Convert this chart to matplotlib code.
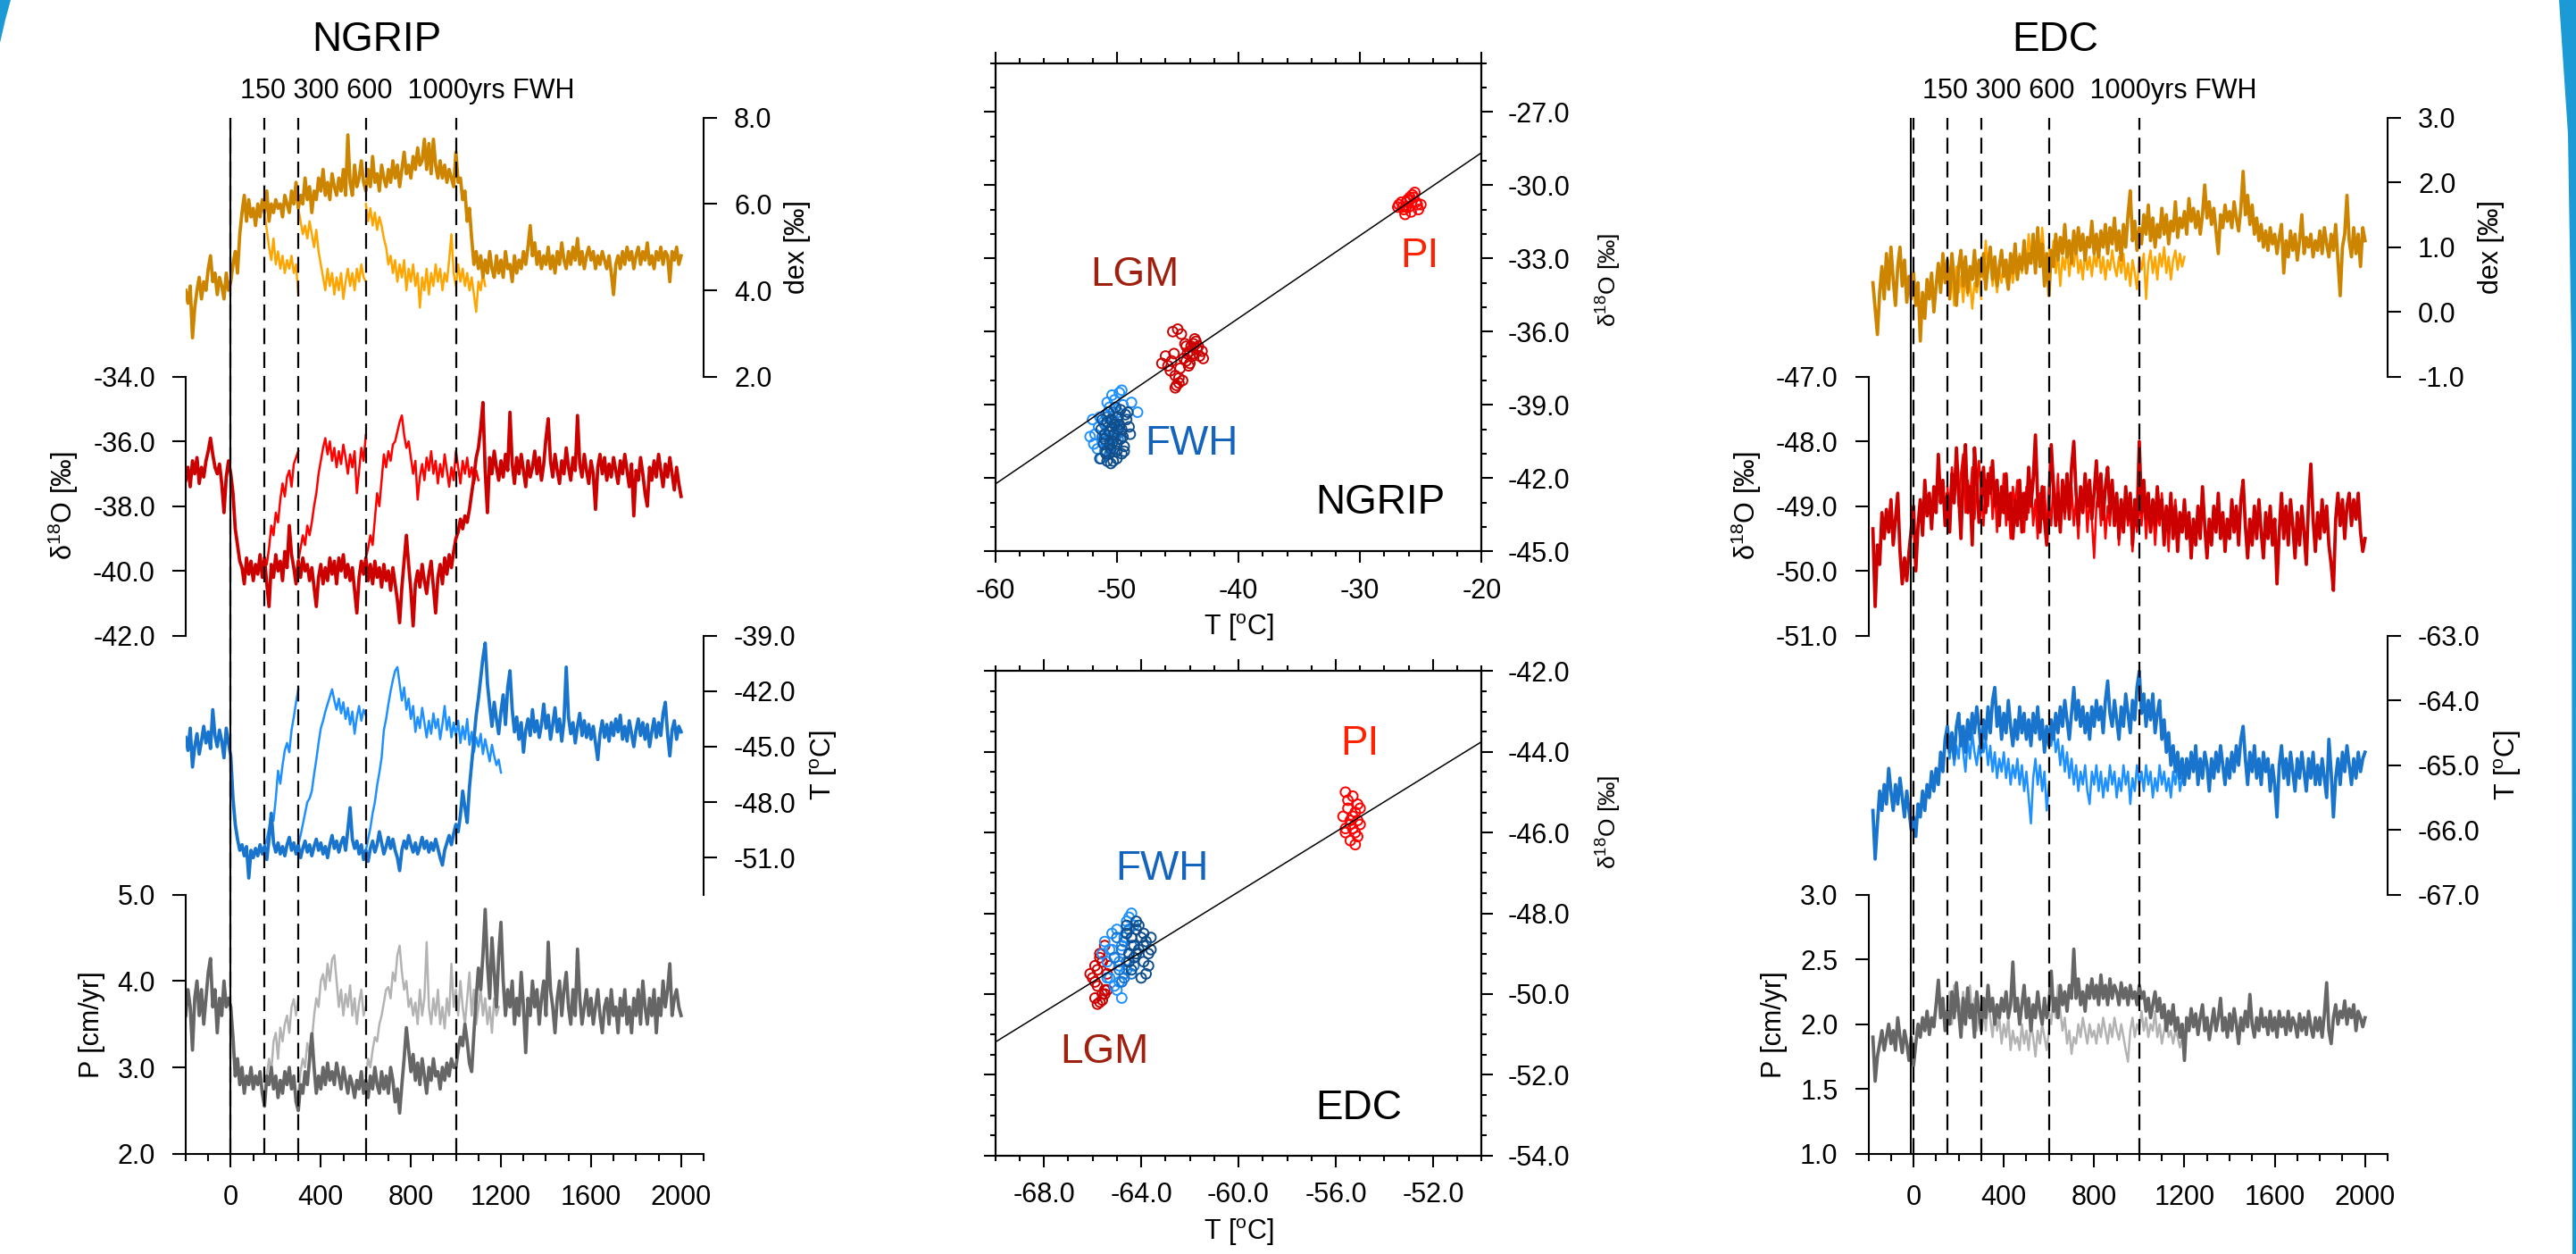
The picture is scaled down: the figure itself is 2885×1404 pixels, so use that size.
import numpy as np
import matplotlib
matplotlib.use("Agg")
import matplotlib.pyplot as plt
from matplotlib.ticker import MultipleLocator, FormatStrFormatter
from matplotlib.patches import Polygon

plt.rcParams['font.family'] = ['Liberation Sans', 'DejaVu Sans']
plt.rcParams['mathtext.fontset'] = 'custom'
plt.rcParams['mathtext.rm'] = 'Liberation Sans'
plt.rcParams['mathtext.it'] = 'Liberation Sans:italic'
plt.rcParams['mathtext.bf'] = 'Liberation Sans:bold'

# ------------------------------------------------------------------
# time series, 10-yr steps (main runs start at -200 / -180, branches at 150/300/600)
fwh_years = [0, 150, 300, 600, 1000]

ngrip_dex = [
    4.0, 3.7, 4.1, 2.9, 3.6, 4.0, 4.3, 3.8, 4.2, 4.0, 4.5, 4.8, 4.2, 4.4, 3.9, 4.3, 4.1, 3.8, 4.4, 4.0,
    4.2, 4.6, 4.9, 4.4, 5.3, 5.8, 6.2, 5.6, 6.1, 5.7, 5.9, 5.5, 6.0, 5.7, 6.1, 5.8, 6.3, 5.6, 6.0, 5.8,
    6.1, 5.9, 6.0, 5.7, 6.2, 6.0, 5.8, 6.3, 6.0, 6.5, 5.9, 6.2, 6.0, 6.6, 6.1, 6.4, 5.8, 6.3, 6.1, 6.6,
    6.3, 6.8, 6.2, 6.5, 6.1, 6.7, 6.4, 6.2, 6.6, 6.3, 6.8, 6.2, 7.6, 6.5, 6.2, 6.9, 6.4, 6.6, 7.0, 6.5,
    6.3, 6.8, 6.4, 7.1, 6.5, 6.7, 6.3, 6.9, 6.6, 6.4, 6.8, 6.5, 7.0, 6.6, 6.9, 6.4, 6.8, 7.2, 6.7, 6.9,
    6.6, 7.1, 6.8, 7.3, 6.9, 7.0, 7.5, 6.8, 7.4, 6.7, 7.5, 6.9, 6.6, 7.0, 6.6, 6.9, 6.5, 6.8, 6.6, 6.4,
    7.2, 6.5, 6.6, 6.1, 6.3, 5.6, 5.9, 5.2, 4.6, 4.9, 4.5, 4.8, 4.3, 4.7, 4.4, 4.9, 4.5, 4.3, 4.8, 4.4,
    4.7, 4.3, 4.9, 4.5, 4.6, 4.2, 4.8, 4.4, 4.7, 4.5, 4.9, 4.6, 5.0, 5.5, 4.8, 5.1, 4.6, 4.9, 4.5, 4.8,
    4.6, 5.0, 4.5, 4.8, 4.4, 4.9, 4.6, 5.1, 4.7, 4.5, 4.9, 4.6, 5.0, 4.7, 5.2, 4.6, 4.9, 4.5, 4.8, 5.0,
    4.7, 4.9, 4.5, 4.8, 4.6, 4.9, 4.7, 4.5, 4.8, 4.4, 3.9, 4.6, 4.8, 4.5, 4.9, 4.6, 5.0, 4.7, 4.9, 4.5,
    4.8, 5.0, 4.6, 4.9, 4.7, 5.1, 4.6, 4.8, 4.5, 4.9, 4.7, 5.0, 4.6, 4.9, 4.8, 4.2, 4.9, 4.7, 5.0, 4.6, 4.8]
ngrip_dex_b150 = [5.8, 5.4, 5.0, 4.7, 5.2, 4.6, 4.9, 4.5, 4.8, 4.4, 4.7, 4.5, 4.8, 4.4, 4.6, 3.9]
ngrip_dex_b300 = [5.9, 5.6, 5.3, 5.5, 5.2, 5.6, 5.3, 5.0, 5.4, 4.9, 4.6, 4.3, 4.0, 4.5, 4.1, 4.4,
                  3.9, 4.3, 4.0, 4.4, 3.8, 4.2, 4.5, 4.1, 4.4, 4.0, 4.5, 4.2, 4.6, 4.3, 4.2]
ngrip_dex_b600 = [6.0, 5.6, 5.9, 5.5, 5.8, 5.4, 5.7, 5.5, 5.2, 5.0, 4.6, 4.8, 4.4, 4.7, 4.2, 4.6,
                  4.3, 4.7, 4.0, 4.5, 4.2, 4.6, 4.1, 4.4, 3.6, 4.3, 4.0, 4.5, 3.9, 4.4, 4.1, 4.6,
                  4.2, 4.5, 4.0, 4.4, 4.2, 4.7, 5.3, 4.4, 4.1, 4.6, 4.2, 4.5, 4.1, 4.4, 4.0, 4.3,
                  3.9, 3.5, 4.2, 4.0, 4.4, 4.1]

ngrip_d18o = [
    -37.2, -36.8, -37.4, -36.6, -37.0, -36.5, -37.3, -36.8, -37.1, -36.6, -36.3, -35.9, -36.4, -36.8, -37.0, -36.7, -37.3, -38.2, -37.1, -36.6,
    -37.0, -37.6, -38.7, -39.2, -39.7, -39.9, -40.4, -39.6, -40.1, -39.7, -40.3, -39.8, -40.1, -39.5, -40.2, -39.6, -40.4, -41.1, -39.8, -40.2,
    -39.5, -40.0, -39.7, -40.3, -39.4, -39.9, -38.6, -39.5, -39.9, -40.4, -39.7, -40.2, -39.6, -40.0, -39.8, -40.3, -39.9, -40.5, -41.1, -40.2,
    -39.8, -40.4, -39.9, -40.3, -39.6, -40.1, -39.7, -40.4, -39.6, -40.0, -39.5, -40.2, -39.8, -40.3, -39.9, -40.6, -41.3, -40.2, -39.7, -40.1,
    -39.6, -40.3, -39.8, -40.4, -39.7, -40.2, -39.9, -40.5, -39.8, -40.3, -40.0, -40.6, -39.9, -40.4, -40.9, -41.6, -40.5, -39.7, -38.9, -39.8,
    -40.6, -41.7, -40.4, -40.0, -40.5, -39.8, -40.3, -40.7, -40.1, -39.7, -40.5, -41.3, -40.2, -39.8, -40.4, -39.6, -40.1, -39.5, -39.9, -39.4,
    -39.0, -38.8, -38.4, -38.7, -38.3, -38.5, -38.1, -37.6, -37.1, -36.5, -36.2, -35.6, -34.8, -36.9, -38.2, -36.5, -37.0, -36.3, -36.8, -37.2,
    -36.6, -37.1, -36.4, -36.9, -35.1, -36.7, -37.3, -36.5, -37.0, -36.4, -36.9, -37.4, -36.6, -37.1, -36.8, -36.3, -37.0, -36.5, -37.2, -36.7,
    -35.9, -35.3, -36.6, -37.1, -36.4, -36.9, -37.3, -36.6, -37.0, -36.2, -36.8, -37.2, -36.5, -36.9, -35.2, -36.7, -37.1, -36.4, -36.9, -37.3,
    -36.6, -37.0, -38.1, -36.8, -36.4, -37.0, -36.5, -37.2, -36.7, -37.1, -36.5, -36.9, -37.3, -36.6, -37.0, -36.4, -36.9, -37.4, -36.7, -38.3,
    -36.9, -37.2, -36.5, -37.0, -37.6, -38.0, -36.8, -37.2, -36.6, -37.1, -36.4, -36.9, -37.4, -36.7, -37.1, -36.5, -37.0, -37.5, -36.8, -37.3, -37.7]
ngrip_d18o_b150 = [-39.6, -39.8, -39.3, -38.6, -38.9, -38.2, -38.5, -37.8, -37.3, -37.7, -37.1, -36.9, -37.4, -36.7, -36.5, -36.3]
ngrip_d18o_b300 = [-39.7, -39.3, -38.9, -39.2, -38.6, -38.9, -38.5, -38.0, -37.6, -37.0, -36.6, -36.2, -35.9, -36.4, -36.0, -36.6,
                   -36.2, -36.8, -36.3, -36.7, -36.1, -36.5, -37.0, -36.4, -36.8, -36.3, -37.6, -36.9, -36.2, -36.6, -35.8]
ngrip_d18o_b600 = [-39.6, -39.3, -38.9, -39.2, -38.4, -37.6, -38.0, -37.2, -36.4, -36.8, -36.3, -36.6, -36.1, -36.0, -35.7, -35.4,
                   -35.2, -35.8, -36.2, -36.0, -36.5, -37.0, -36.6, -37.8, -37.1, -36.7, -37.2, -36.5, -36.9, -36.3, -37.0, -36.6,
                   -37.3, -36.7, -37.1, -36.4, -36.9, -37.4, -36.8, -37.2, -36.3, -36.8, -37.3, -36.6, -37.0, -36.5, -37.1, -36.8,
                   -37.3, -36.9, -37.2]

ngrip_t = [
    -44.5, -45.2, -44.0, -46.1, -45.0, -44.3, -45.4, -44.7, -43.9, -44.8, -44.2, -45.1, -43.0, -44.4, -45.0, -44.1, -44.7, -45.6, -44.0, -44.8,
    -45.5, -47.8, -49.2, -50.0, -50.6, -50.3, -50.9, -50.4, -52.1, -50.6, -51.0, -50.5, -50.9, -50.3, -50.8, -50.4, -51.1, -50.0, -48.6, -50.2,
    -50.7, -50.2, -50.8, -50.4, -50.9, -50.3, -49.9, -50.6, -50.2, -50.8, -50.3, -51.0, -50.5, -50.1, -50.7, -50.3, -50.9, -50.4, -50.0, -50.6,
    -50.2, -50.8, -50.4, -51.0, -50.3, -49.8, -50.5, -50.1, -50.7, -50.2, -49.9, -50.6, -49.5, -48.3, -50.0, -50.5, -50.1, -50.8, -50.3, -51.1,
    -50.6, -51.2, -50.5, -50.1, -50.7, -50.3, -49.6, -50.2, -50.8, -50.4, -49.9, -50.5, -50.0, -50.6, -51.0, -51.7, -50.6, -50.1, -50.5, -49.8,
    -50.3, -50.7, -50.2, -50.8, -50.4, -49.9, -50.5, -50.1, -50.7, -50.2, -50.6, -50.0, -50.5, -51.0, -51.4, -50.6, -50.2, -49.8, -50.3, -49.7,
    -49.2, -49.6, -48.7, -47.4, -48.3, -49.1, -47.2, -45.9, -44.6, -43.3, -42.4, -41.3, -40.2, -39.4, -41.6, -42.8, -43.9, -42.6, -43.5, -44.3,
    -43.1, -42.2, -43.8, -41.8, -40.9, -43.0, -44.2, -43.4, -44.6, -43.7, -45.3, -44.1, -43.5, -44.4, -43.0, -44.2, -43.6, -44.5, -43.8, -42.7,
    -44.0, -43.3, -44.6, -43.8, -42.9, -44.2, -43.5, -44.7, -43.6, -40.7, -43.4, -44.3, -43.7, -44.8, -43.9, -43.2, -44.4, -43.6, -44.5, -43.8,
    -44.6, -43.9, -44.8, -45.7, -44.3, -43.6, -44.5, -43.8, -44.7, -43.7, -44.4, -43.5, -44.2, -43.3, -44.6, -43.9, -44.7, -43.6, -44.3, -45.0,
    -44.1, -43.5, -44.4, -43.7, -44.6, -43.8, -45.0, -44.2, -43.5, -44.5, -43.7, -44.4, -43.2, -42.6, -44.3, -45.5, -44.1, -43.6, -44.6, -43.9, -44.2]
ngrip_t_b150 = [-50.4, -50.0, -49.4, -48.7, -49.0, -47.8, -46.3, -47.0, -46.0, -45.2, -44.8, -45.3, -44.1, -43.4, -42.6, -41.9]
ngrip_t_b300 = [-50.3, -49.8, -49.2, -48.6, -48.0, -47.8, -47.4, -46.5, -45.7, -44.8, -44.0, -43.6, -43.1, -42.7, -42.3, -41.9,
                -42.5, -43.0, -42.4, -43.2, -42.6, -43.5, -42.9, -43.8, -43.1, -44.3, -43.4, -42.8, -43.6, -43.0, -43.3]
ngrip_t_b600 = [-50.6, -50.0, -49.4, -48.6, -48.0, -47.1, -46.4, -45.6, -44.1, -43.5, -42.7, -42.0, -41.4, -40.9, -40.7, -41.6,
                -42.5, -41.8, -43.0, -42.4, -43.5, -42.8, -44.2, -43.4, -44.0, -42.9, -43.7, -44.5, -43.6, -44.3, -43.2, -44.0,
                -43.5, -44.6, -43.8, -42.8, -44.1, -43.4, -44.5, -43.7, -44.4, -43.6, -44.8, -43.9, -44.6, -43.5, -44.9, -44.2,
                -45.3, -44.5, -45.0, -44.3, -45.4, -44.6, -45.2, -45.8, -44.9, -45.5, -46.0, -45.7, -46.4]

ngrip_p = [
    3.6, 3.9, 3.7, 3.2, 3.8, 4.0, 3.6, 3.9, 3.5, 3.8, 4.1, 4.26, 3.7, 3.9, 3.4, 3.8, 3.6, 4.0, 3.7, 3.8,
    3.7, 3.35, 2.9, 3.1, 2.8, 3.0, 2.7, 2.9, 2.8, 3.0, 2.75, 2.9, 2.8, 2.95, 2.7, 2.55, 2.9, 2.8, 3.0, 2.75,
    2.9, 2.65, 2.85, 2.7, 2.95, 2.8, 3.0, 2.75, 2.9, 2.6, 2.5, 2.8, 2.7, 2.95, 2.8, 3.1, 3.39, 3.0, 2.7, 2.9,
    2.75, 3.0, 2.8, 3.05, 2.85, 2.95, 2.8, 3.05, 2.9, 2.75, 3.0, 2.85, 2.7, 2.9, 2.8, 2.65, 2.85, 2.75, 2.95, 2.7,
    2.85, 2.65, 2.9, 2.75, 3.0, 2.8, 2.7, 2.95, 2.75, 2.9, 2.7, 3.0, 2.85, 2.6, 2.75, 2.47, 2.8, 3.1, 3.46, 3.2,
    2.95, 3.15, 2.85, 3.05, 2.8, 3.1, 2.9, 2.7, 3.0, 2.85, 3.1, 2.9, 2.95, 2.75, 3.0, 2.85, 3.05, 2.9, 3.1, 3.0,
    3.0, 3.2, 3.35, 3.25, 3.5, 3.3, 3.05, 2.95, 3.4, 3.8, 4.15, 3.9, 4.3, 4.83, 4.2, 3.8, 4.5, 4.1, 3.7, 4.3,
    4.68, 4.0, 3.6, 3.9, 3.7, 4.0, 3.5, 3.8, 3.6, 4.1, 3.7, 3.17, 3.8, 3.6, 4.0, 3.7, 3.9, 3.5, 3.8, 4.0,
    3.6, 4.45, 3.9, 3.7, 3.4, 3.8, 4.0, 3.6, 3.9, 4.1, 3.7, 3.5, 3.9, 3.6, 4.37, 3.8, 3.5, 3.7, 3.9, 3.6,
    3.8, 3.5, 3.7, 3.9, 3.6, 3.4, 3.7, 3.8, 3.5, 3.9, 3.6, 3.7, 3.4, 3.8, 3.6, 3.9, 3.5, 3.7, 3.4, 3.8,
    3.6, 3.9, 3.5, 4.0, 3.7, 3.5, 3.8, 3.6, 3.9, 3.4, 3.8, 3.6, 4.0, 3.7, 3.9, 4.2, 3.6, 3.8, 3.9, 3.7, 3.6]
ngrip_p_b150 = [2.6, 2.9, 3.1, 2.95, 3.3, 3.4, 3.1, 3.46, 3.3, 3.5, 3.6, 3.4, 3.7, 3.79, 3.6, 3.8]
ngrip_p_b300 = [2.7, 2.95, 3.1, 3.0, 3.28, 3.15, 3.3, 3.6, 3.8, 3.7, 4.0, 4.08, 3.9, 4.2, 4.0, 4.25,
                4.3, 4.0, 3.7, 3.9, 3.6, 3.85, 3.7, 3.95, 3.6, 3.8, 3.5, 3.75, 3.9, 3.6, 3.7]
ngrip_p_b600 = [2.9, 3.1, 3.0, 3.2, 3.35, 3.3, 3.5, 3.6, 3.75, 3.9, 3.93, 3.8, 4.1, 4.0, 4.3, 4.41,
                4.1, 3.9, 4.0, 3.7, 3.8, 3.6, 3.75, 3.5, 3.9, 3.6, 3.8, 4.45, 3.7, 3.5, 3.8, 3.6,
                3.9, 3.5, 3.7, 3.45, 3.8, 3.6, 4.2, 3.7, 3.9, 3.6, 4.0, 3.7, 3.5, 3.8, 4.1, 3.6,
                3.9, 3.5, 3.7, 3.9, 3.6, 3.8, 3.5, 3.7, 3.4, 3.8, 3.6, 3.7]

edc_dex = [
    0.45, 0.05, -0.35, 0.3, 0.7, 0.2, 0.9, 0.35, 1.0, 0.5, 0.1, 0.7, 1.0, 0.4, 0.8, 0.15, 0.55, 0.2,
    0.6, 0.1, 0.45, -0.45, 0.3, -0.1, 0.5, 0.2, 0.6, 0.0, 0.4, 0.75, 0.3, 0.9, 0.45, 0.8, 0.2, 0.9, 0.5, 0.1,
    0.7, 0.95, 0.4, 0.85, 0.3, 0.7, 0.5, 0.95, 0.4, 0.8, 0.55, 0.9, 0.35, 0.75, 1.0, 0.5, 0.85, 0.4, 0.7, 0.95,
    0.55, 0.8, 0.35, 0.9, 0.6, 1.05, 0.5, 0.85, 0.65, 1.1, 0.6, 0.9, 0.75, 1.2, 0.6, 1.3, 0.7, 1.05, 0.4, 0.9,
    0.25, 0.95, 0.7, 1.2, 0.8, 1.15, 0.9, 1.35, 0.85, 1.1, 0.75, 1.25, 0.9, 1.3, 0.95, 1.2, 0.8, 1.15, 1.0, 1.4,
    0.9, 1.2, 0.85, 1.25, 1.0, 1.35, 0.9, 1.3, 1.05, 1.45, 0.95, 1.25, 0.8, 1.35, 1.0, 1.5, 1.87, 1.1, 1.4, 0.95,
    1.3, 1.05, 1.5, 1.2, 1.65, 1.1, 1.45, 1.0, 1.35, 1.15, 1.6, 1.2, 1.5, 1.05, 1.4, 1.25, 1.7, 1.15, 1.45, 1.3,
    1.55, 1.2, 1.75, 1.4, 1.6, 1.3, 1.55, 1.2, 1.5, 1.96, 1.45, 1.7, 1.35, 1.6, 1.25, 0.9, 1.5, 1.3, 1.65, 1.4,
    1.55, 1.3, 1.7, 1.45, 1.25, 1.6, 2.17, 1.5, 1.8, 1.35, 1.65, 1.2, 1.45, 1.1, 1.35, 1.0, 1.25, 0.95, 1.3, 1.05,
    1.2, 0.9, 1.15, 1.35, 0.6, 1.1, 0.85, 1.25, 0.95, 1.2, 0.8, 1.1, 1.5, 0.9, 1.15, 1.0, 1.2, 0.85, 1.1, 0.95,
    1.25, 0.9, 1.3, 1.05, 0.85, 1.2, 0.95, 1.35, 0.8, 0.25, 1.0, 1.2, 1.8, 1.1, 0.85, 1.3, 0.9, 1.2, 0.7, 1.3, 1.1]
edc_dex_b150 = [0.5, 0.2, 0.6, 0.1, 0.7, 0.3, 0.55, 0.15, 0.6, 0.25, 0.5, 0.05, 0.45, 0.3, 0.6, 0.2]
edc_dex_b300 = [0.8, 0.5, 1.1, 0.6, 0.85, 0.4, 0.7, 0.3, 0.65, 0.45, 0.8, 0.5, 0.35, 0.7, 0.45, 0.75,
                0.55, 0.9, 0.6, 1.0, 0.7, 1.2, 0.8, 1.1, 0.65, 1.0, 0.75, 1.3, 0.85, 0.6, 0.9]
edc_dex_b600 = [1.0, 0.7, 1.1, 0.6, 0.9, 0.4, 0.85, 0.65, 1.0, 0.55, 0.9, 0.7, 1.05, 0.6, 0.8, 0.5,
                0.95, 0.65, 0.85, 0.55, 0.9, 0.7, 1.0, 0.6, 0.85, 0.5, 0.8, 0.65, 0.95, 0.7, 0.55, 0.85,
                0.6, 0.9, 0.5, 0.75, 0.4, 0.8, 0.6, 0.35, 0.85, 0.65, 0.9, 0.2, 0.75, 0.95, 0.6, 0.85,
                0.5, 0.9, 0.7, 1.0, 0.6, 0.85, 0.5, 0.8, 0.95, 0.65, 0.9, 0.7, 0.85]

edc_d18o = [
    -49.35, -50.55, -49.6, -49.9, -49.1, -49.5, -49.05, -49.4, -48.9, -49.6, -49.2, -48.8, -49.7, -50.2, -49.8, -50.15, -49.7, -49.35,
    -49.0, -50.0, -49.3, -48.9, -49.45, -48.6, -49.15, -48.8, -49.35, -48.7, -49.1, -48.2, -48.95, -48.6, -49.3, -48.8, -49.4, -48.5, -48.95, -48.1,
    -48.8, -49.5, -48.5, -48.05, -49.1, -48.7, -49.6, -48.1, -48.6, -49.25, -48.9, -48.4, -49.1, -48.5, -48.8, -48.3, -49.0, -48.6, -49.3, -48.7,
    -49.1, -48.5, -49.2, -48.8, -49.5, -48.9, -49.3, -48.6, -49.4, -48.8, -49.2, -48.4, -49.0, -48.6, -47.9, -48.9, -49.4, -48.7, -49.2, -49.6,
    -48.9, -48.05, -48.7, -49.3, -48.8, -49.4, -48.6, -49.1, -48.5, -49.2, -48.4, -48.0, -48.8, -49.3, -48.7, -49.1, -48.5, -49.0, -48.6, -49.2,
    -48.8, -48.3, -49.0, -48.5, -49.2, -48.7, -48.4, -49.1, -48.6, -49.3, -48.8, -49.5, -48.9, -49.4, -48.7, -49.2, -48.8, -49.6, -48.9, -49.3,
    -48.0, -49.1, -48.6, -49.2, -48.8, -49.4, -48.9, -49.3, -48.7, -49.2, -48.9, -49.6, -49.0, -49.4, -48.8, -49.5, -49.0, -49.7, -49.1, -49.4,
    -48.9, -49.5, -49.1, -49.8, -49.2, -49.6, -49.0, -49.5, -48.7, -49.3, -49.8, -49.2, -49.6, -49.0, -49.4, -48.8, -49.5, -49.1, -49.7, -49.2,
    -49.5, -48.9, -49.4, -49.0, -49.6, -48.9, -48.6, -49.3, -49.8, -49.2, -49.6, -49.0, -49.5, -48.9, -49.4, -49.8, -49.1, -49.5, -49.0, -49.6,
    -49.2, -50.2, -49.4, -48.8, -49.5, -49.0, -49.6, -48.9, -49.3, -49.8, -49.1, -49.6, -49.0, -49.4, -49.9, -48.9, -48.35, -49.2, -49.7, -49.1,
    -49.5, -48.9, -49.4, -49.0, -49.6, -49.9, -50.3, -49.2, -48.8, -49.3, -48.9, -49.5, -49.0, -48.8, -49.3, -48.9, -49.2, -48.8, -49.4, -49.7, -49.5]
edc_d18o_b150 = [-48.7, -49.2, -48.4, -48.9, -48.3, -49.0, -48.5, -48.2, -49.1, -48.6, -48.9, -48.4, -49.2, -48.7, -48.3, -48.9]
edc_d18o_b300 = [-48.8, -49.3, -48.6, -49.0, -48.4, -49.2, -48.7, -49.4, -48.8, -49.1, -48.5, -49.3, -48.9, -49.5, -48.7, -49.0,
                 -48.6, -49.2, -48.8, -49.4, -48.7, -49.1, -48.6, -49.3, -48.9, -49.5, -48.8, -49.2, -48.7, -49.4, -49.0]
edc_d18o_b600 = [-48.9, -49.3, -48.6, -49.1, -48.5, -49.4, -48.8, -49.2, -48.6, -49.0, -48.7, -49.3, -48.9, -49.5, -48.8, -49.1,
                 -48.6, -49.4, -48.9, -49.2, -49.8, -49.0, -48.7, -49.3, -48.8, -49.5, -49.0, -49.3, -48.7, -49.2, -48.9, -49.6,
                 -49.0, -49.4, -48.8, -49.3, -49.0, -49.7, -49.1, -49.4, -48.9, -49.3, -48.8, -49.5, -49.0, -49.4, -48.9, -49.6,
                 -49.1, -49.3, -48.8, -49.4, -49.1, -49.7, -49.0, -49.3, -48.9, -49.5, -49.1, -49.4, -49.2]

edc_t = [
    -65.7, -66.45, -65.9, -65.4, -65.7, -65.3, -65.6, -65.05, -65.4, -65.7, -65.3, -65.6, -65.2, -65.5, -65.8, -65.4, -65.7, -66.0,
    -65.8, -66.1, -65.6, -65.8, -65.4, -65.7, -65.3, -65.5, -65.1, -65.4, -65.05, -65.3, -64.8, -65.1, -64.6, -64.4, -64.8, -64.5, -64.9, -64.4,
    -64.2, -64.7, -64.4, -64.8, -64.3, -64.6, -64.2, -64.5, -64.1, -64.4, -64.8, -64.3, -64.6, -64.1, -64.5, -64.0, -63.8, -64.4, -64.1, -64.6,
    -64.2, -64.5, -64.0, -64.4, -64.7, -64.3, -64.6, -64.1, -64.5, -64.2, -64.6, -64.3, -64.7, -64.2, -64.5, -64.1, -64.6, -64.3, -64.8, -64.4,
    -64.7, -64.3, -64.6, -64.2, -64.5, -64.1, -64.4, -64.0, -64.3, -64.6, -64.2, -63.8, -64.3, -64.0, -64.4, -64.1, -64.5, -64.2, -64.6, -64.1,
    -64.4, -64.0, -64.3, -64.1, -64.5, -64.0, -63.7, -64.2, -64.4, -64.0, -64.3, -64.6, -64.1, -64.4, -63.9, -64.2, -64.5, -64.0, -64.3, -63.8,
    -63.55, -64.2, -63.9, -64.4, -64.0, -64.3, -63.9, -64.5, -64.2, -64.0, -64.6, -64.3, -64.8, -64.5, -65.0, -64.7, -65.1, -64.8, -65.2, -64.9,
    -65.3, -64.9, -65.2, -64.8, -65.1, -64.7, -65.3, -64.9, -65.2, -64.8, -65.0, -65.4, -64.9, -65.2, -64.8, -65.1, -64.7, -65.0, -65.3, -64.9,
    -65.2, -64.8, -65.1, -64.7, -65.0, -64.6, -64.4, -64.9, -65.3, -64.8, -65.1, -64.7, -65.2, -64.9, -65.3, -64.8, -65.1, -64.9, -65.4, -65.0,
    -65.3, -65.8, -65.0, -64.7, -65.2, -64.9, -65.3, -64.8, -65.1, -65.4, -64.9, -65.2, -64.8, -65.1, -65.4, -64.9, -65.2, -64.8, -65.3, -65.0,
    -65.3, -64.9, -65.2, -65.5, -64.6, -65.1, -65.8, -65.2, -64.9, -65.3, -64.8, -65.1, -64.7, -65.0, -65.3, -64.9, -65.2, -64.8, -65.1, -64.9, -64.8]
edc_t_b150 = [-64.6, -64.9, -64.5, -65.0, -64.7, -64.9, -64.4, -64.8, -65.1, -64.6, -64.9, -64.5, -64.8, -65.0, -64.7, -64.9]
edc_t_b300 = [-64.5, -64.8, -64.6, -65.0, -64.7, -65.1, -64.8, -65.2, -64.9, -65.1, -64.8, -65.2, -64.9, -65.3, -65.0, -65.2,
              -64.9, -65.3, -65.0, -65.4, -65.1, -65.5, -65.9, -65.2, -64.9, -65.3, -65.0, -65.4, -65.1, -65.7, -65.3]
edc_t_b600 = [-64.5, -64.7, -64.4, -64.8, -64.6, -65.0, -64.7, -65.1, -64.8, -65.2, -64.9, -65.3, -65.0, -65.4, -65.1, -65.3,
              -65.0, -65.4, -65.6, -65.1, -65.3, -65.0, -65.4, -65.1, -65.5, -65.2, -65.4, -65.0, -65.3, -65.1, -65.5, -65.2,
              -65.4, -65.0, -65.3, -65.1, -65.6, -65.2, -65.4, -65.0, -65.3, -65.1, -65.4, -65.0, -65.3, -65.1, -65.5, -65.2,
              -65.4, -65.0, -65.3, -65.1, -65.4, -65.2, -65.5, -65.1, -65.3, -65.0, -65.4, -65.2, -65.3]

edc_p = [
    1.9, 1.56, 1.75, 1.85, 1.95, 1.8, 1.9, 2.0, 1.85, 1.95, 1.8, 2.05, 1.9, 1.78, 1.95, 1.85, 1.72, 1.9,
    1.68, 1.85, 2.0, 1.9, 2.05, 1.95, 2.1, 1.92, 2.05, 1.98, 2.15, 2.34, 2.05, 2.2, 1.95, 2.1, 2.0, 2.25, 2.05, 2.32,
    2.1, 1.9, 2.2, 2.0, 2.28, 2.05, 2.15, 1.9, 2.25, 2.1, 1.95, 2.2, 2.05, 2.3, 2.1, 2.2, 2.0, 2.15, 2.05, 2.2,
    2.1, 2.25, 2.05, 2.15, 2.48, 2.1, 2.2, 2.0, 2.15, 2.3, 2.05, 2.2, 1.95, 2.15, 2.05, 2.25, 2.1, 2.0, 2.2, 2.05,
    2.15, 2.41, 2.1, 2.2, 2.05, 2.3, 2.15, 2.25, 2.1, 2.3, 2.2, 2.58, 2.2, 2.35, 2.15, 2.25, 2.1, 2.3, 2.2, 2.35,
    2.2, 2.3, 2.15, 2.38, 2.2, 2.3, 2.15, 2.35, 2.2, 2.3, 2.25, 2.15, 2.32, 2.2, 2.28, 2.15, 2.3, 2.2, 2.25, 2.15,
    2.3, 2.2, 2.25, 2.1, 2.2, 2.05, 2.15, 2.25, 2.1, 2.2, 2.05, 2.15, 1.95, 2.1, 2.0, 2.15, 1.95, 2.05, 1.9, 2.0,
    1.72, 2.05, 1.95, 2.12, 1.98, 2.08, 1.92, 2.05, 2.15, 1.95, 2.05, 1.88, 2.0, 2.12, 1.95, 2.05, 2.2, 1.95, 2.05, 1.9,
    2.08, 1.95, 2.12, 2.0, 1.85, 2.05, 1.95, 2.1, 1.98, 2.23, 2.0, 1.9, 2.05, 1.95, 2.12, 1.98, 2.05, 1.92, 2.1, 1.95,
    2.05, 1.9, 2.1, 1.98, 2.05, 1.92, 2.1, 1.95, 2.05, 2.0, 1.9, 2.08, 1.95, 2.05, 1.92, 2.1, 1.98, 1.9, 2.05, 1.95,
    2.05, 1.9, 2.08, 2.32, 1.95, 1.85, 2.05, 2.15, 2.0, 2.1, 2.05, 2.18, 2.0, 2.12, 2.05, 2.15, 1.95, 2.1, 2.05, 1.98, 2.05]
edc_p_b150 = [2.1, 2.25, 2.0, 2.3, 2.1, 2.2, 2.05, 2.25, 2.0, 2.15, 2.3, 2.05, 2.2, 1.95, 2.1, 2.05]
edc_p_b300 = [2.0, 2.15, 1.95, 2.2, 2.05, 1.9, 2.1, 1.95, 2.05, 1.85, 2.0, 1.9, 2.05, 1.8, 1.95, 1.85,
              1.9, 1.8, 2.0, 1.85, 1.95, 1.8, 2.0, 1.9, 1.75, 1.95, 1.85, 2.0, 1.9, 1.8, 1.95]
edc_p_b600 = [2.1, 2.0, 2.2, 2.05, 2.3, 2.1, 1.95, 2.05, 1.85, 1.95, 1.77, 1.9, 1.85, 2.0, 1.9, 2.05,
              1.95, 1.85, 2.0, 1.9, 1.95, 1.85, 2.0, 1.9, 2.05, 1.95, 1.85, 2.0, 1.9, 2.05, 1.95, 1.88,
              2.0, 1.9, 1.8, 1.71, 1.95, 2.05, 1.9, 2.0, 1.95, 2.1, 1.95, 2.05, 1.9, 2.0, 1.95, 2.1,
              1.9, 2.0, 1.85, 1.95, 2.05, 1.9, 1.95, 1.85, 1.95, 1.9, 1.82, 1.9, 1.85]

# scatter: T vs d18O
ngrip_pi_t = [-26.8, -26.5, -26.2, -25.9, -25.6, -25.3, -26.0, -26.4, -25.7, -25.2,
              -26.6, -25.8, -26.1, -25.5, -26.3, -25.0, -26.9, -25.9, -25.4, -26.2]
ngrip_pi_d = [-30.8, -30.9, -30.7, -30.6, -30.5, -30.8, -30.9, -31.0, -30.4, -31.0,
              -30.7, -31.1, -30.6, -30.3, -31.2, -30.8, -30.9, -30.5, -30.7, -30.9]
ngrip_lgm_t = [-46.3, -46.0, -45.8, -45.5, -45.3, -45.6, -45.2, -44.9, -44.6, -44.8, -44.3, -44.0,
               -43.7, -43.4, -43.2, -43.5, -43.9, -44.2, -44.5, -44.1, -43.8, -43.0, -43.6, -44.4,
               -44.7, -45.0, -45.4, -45.2, -44.9, -43.3, -44.0, -43.7, -44.3, -42.9, -45.1]
ngrip_lgm_d = [-37.3, -37.0, -37.4, -37.2, -36.9, -37.6, -37.8, -38.1, -38.0, -37.5, -37.2, -36.8,
               -36.5, -36.7, -37.0, -36.4, -36.6, -36.9, -37.1, -37.4, -37.0, -36.8, -36.3, -36.5,
               -36.1, -35.9, -36.0, -38.3, -37.9, -36.6, -37.3, -36.9, -36.6, -37.1, -38.2]
ngrip_fwh_lt_t = [-52.0, -51.8, -51.5, -51.2, -50.9, -50.6, -51.6, -51.3, -50.8, -50.4, -51.9, -51.1,
                  -50.2, -49.8, -49.5, -49.9, -50.5, -51.4, -52.2, -51.0, -50.1, -49.6, -48.3, -48.8]
ngrip_fwh_lt_d = [-39.6, -40.2, -39.9, -40.5, -39.4, -39.1, -40.8, -41.2, -38.9, -38.6, -40.6, -39.7,
                  -38.8, -38.5, -39.0, -39.3, -40.0, -39.5, -40.3, -40.9, -39.8, -38.4, -39.3, -38.9]
ngrip_fwh_md_t = [-51.0, -50.7, -50.4, -50.1, -49.8, -50.9, -50.6, -50.3, -50.0, -49.7, -51.2, -50.8,
                  -50.5, -50.2, -49.9, -50.6, -50.3, -50.0]
ngrip_fwh_md_d = [-39.8, -40.1, -39.6, -40.3, -39.9, -40.5, -40.7, -40.2, -40.6, -40.1, -40.3, -39.5,
                  -40.9, -39.7, -40.4, -41.0, -39.3, -39.9]
ngrip_fwh_dk_t = [-51.3, -51.0, -50.8, -50.5, -50.2, -49.9, -49.6, -49.3, -49.0, -50.9, -50.6, -50.3,
                  -50.0, -49.7, -49.4, -51.2, -50.7, -50.4, -50.1, -49.8, -49.5, -49.2, -50.9, -50.5,
                  -50.0, -49.6, -50.3, -49.9, -51.1, -50.6, -50.2, -49.7, -51.4, -50.8, -50.0, -49.4,
                  -48.9, -49.1, -50.5, -51.0]
ngrip_fwh_dk_d = [-40.0, -40.4, -39.7, -40.8, -40.2, -39.5, -40.0, -39.4, -39.9, -41.0, -40.6, -41.3,
                  -40.9, -40.4, -40.7, -39.6, -39.3, -39.9, -39.1, -39.8, -40.3, -39.6, -40.9, -41.4,
                  -41.2, -41.0, -40.5, -40.0, -40.6, -40.1, -39.8, -39.2, -41.2, -41.3, -40.6, -40.9,
                  -40.2, -39.3, -39.6, -40.2]
ngrip_fit_t = [-60.0, -20.0]
ngrip_fit_d = [-42.24, -28.67]

edc_pi_t = [-55.6, -55.3, -55.1, -55.5, -55.2, -55.7, -55.4, -55.0, -55.3, -55.6,
            -55.1, -55.4, -55.2, -55.5, -55.3, -55.0, -55.6, -55.2, -55.4, -55.1]
edc_pi_d = [-45.0, -45.1, -45.3, -45.4, -45.5, -45.6, -45.7, -45.8, -45.9, -46.0,
            -46.1, -46.2, -46.3, -45.2, -45.6, -45.4, -45.9, -46.0, -45.8, -45.7]
edc_lgm_t = [-66.0, -65.8, -65.6, -65.9, -65.7, -65.5, -65.8, -65.6, -65.4, -65.9,
             -65.7, -65.5, -65.3, -65.8, -65.6, -66.1, -65.4, -65.7, -65.5, -65.9]
edc_lgm_d = [-49.6, -49.8, -50.0, -50.1, -50.2, -49.9, -49.4, -49.2, -49.5, -49.7,
             -49.0, -48.8, -49.3, -50.25, -50.15, -49.5, -49.9, -49.1, -50.0, -49.3]
edc_fwh_lt_t = [-65.5, -65.3, -65.1, -64.9, -64.7, -65.4, -65.2, -65.0, -64.8, -64.6, -65.3, -65.1,
                -64.9, -64.7, -64.5, -65.6, -65.0, -64.8, -64.4, -65.2, -64.9, -64.6, -65.4, -64.3]
edc_fwh_lt_d = [-48.7, -48.9, -49.1, -49.3, -49.5, -49.2, -48.5, -48.4, -48.8, -48.2, -49.6, -49.8,
                -49.7, -48.6, -48.1, -49.0, -49.9, -50.1, -48.0, -48.9, -49.2, -49.4, -49.6, -48.3]
edc_fwh_md_t = [-65.0, -64.8, -64.6, -64.4, -64.9, -64.7, -64.5, -64.3, -65.1, -64.6, -64.8, -64.4,
                -64.7, -64.5]
edc_fwh_md_d = [-48.6, -48.9, -49.2, -49.5, -49.4, -48.7, -49.0, -49.3, -49.1, -48.5, -49.7, -48.8,
                -49.6, -48.4]
edc_fwh_dk_t = [-64.6, -64.4, -64.2, -64.0, -63.8, -63.6, -64.5, -64.3, -64.1, -63.9, -63.7, -64.6,
                -64.2, -63.9, -64.4, -64.0, -63.7, -64.3, -64.1, -63.8, -63.6, -64.5, -63.9, -64.2]
edc_fwh_dk_d = [-48.5, -48.6, -48.4, -48.6, -48.7, -48.9, -49.0, -49.1, -48.9, -49.2, -49.3, -48.3,
                -48.2, -48.5, -49.4, -49.6, -49.0, -48.8, -48.3, -49.5, -48.6, -49.2, -48.8, -49.0]
edc_fit_t = [-70.0, -50.0]
edc_fit_d = [-51.19, -43.75]

# ------------------------------------------------------------------
W, H = 2885, 1404
fig = plt.figure(figsize=(W / 100, H / 100), dpi=100)


def rect(x0, y0, x1, y1):
    # pixel box (top-left origin) -> figure fraction
    return [x0 / W, 1 - y1 / H, (x1 - x0) / W, (y1 - y0) / H]


def years(start, vals):
    return start + 10 * np.arange(len(vals))


dark = ['#CD8500', '#CD0000', '#1874CD', '#666666']
light = ['#FFA500', '#FF0000', '#1E90FF', '#B3B3B3']
ylabels = ['dex [‰]', 'δ$^{18}$O [‰]', 'T [$^{\\rm o}$C]', 'P [cm/yr]']
row_top = [131.7, 421.7, 711.7, 1001.7]
row_h = 290.0


def side_panel(x0, x1, start, mains, branches, lims, steps, title, title_x, solid_x):
    for i in range(4):
        ax = fig.add_axes(rect(x0, row_top[i], x1, row_top[i] + row_h))
        ax.patch.set_visible(False)
        for b_start, vals in zip((150, 300, 600), branches[i]):
            ax.plot(years(b_start, vals), vals, color=light[i], lw=1.8)
        ax.plot(years(start, mains[i]), mains[i], color=dark[i], lw=2.7)
        ax.set_xlim(-200, 2100)
        ax.set_ylim(*lims[i])

        side = 'right' if i % 2 == 0 else 'left'
        other = 'left' if side == 'right' else 'right'
        for s in ('top', 'bottom', other):
            ax.spines[s].set_visible(False)
        ax.spines[side].set_linewidth(1.5)
        ax.yaxis.set_major_locator(MultipleLocator(steps[i]))
        ax.yaxis.set_major_formatter(FormatStrFormatter('%.1f'))
        ax.tick_params(axis='y', direction='out', length=10.5, width=1.5, pad=14, labelsize=22,
                       left=(side == 'left'), labelleft=(side == 'left'),
                       right=(side == 'right'), labelright=(side == 'right'))
        ax.yaxis.set_label_position(side)
        ax.set_ylabel(ylabels[i], fontsize=22, labelpad=10)

        if i < 3:
            ax.tick_params(axis='x', bottom=False, labelbottom=False)
        else:
            ax.spines['bottom'].set_visible(True)
            ax.spines['bottom'].set_linewidth(1.5)
            ax.xaxis.set_major_locator(MultipleLocator(400))
            ax.xaxis.set_minor_locator(MultipleLocator(100))
            ax.tick_params(axis='x', which='major', direction='out', length=10.8, width=1.5,
                           pad=14, labelsize=22)
            ax.tick_params(axis='x', which='minor', direction='out', length=5.6, width=1.5)

    # FWH markers over the whole stack
    ov = fig.add_axes(rect(x0, row_top[0], x1, row_top[3] + row_h))
    ov.set_xlim(-200, 2100)
    ov.set_ylim(0, 1)
    ov.axis('off')
    ov.axvline(solid_x, color='black', lw=1.5)
    for yr in fwh_years:
        ov.axvline(yr, color='black', lw=1.6, ls=(0, (8, 4)))
    ov.text(40, 1 + (131.7 - 102) / 1160, '150 300 600  1000yrs FWH', fontsize=22,
            ha='left', va='center', transform=ov.transData)
    fig.text(title_x / W, 1 - 45 / H, title, fontsize=33, ha='center', va='center')


side_panel(208, 788, -200,
           [ngrip_dex, ngrip_d18o, ngrip_t, ngrip_p],
           [[ngrip_dex_b150, ngrip_dex_b300, ngrip_dex_b600],
            [ngrip_d18o_b150, ngrip_d18o_b300, ngrip_d18o_b600],
            [ngrip_t_b150, ngrip_t_b300, ngrip_t_b600],
            [ngrip_p_b150, ngrip_p_b300, ngrip_p_b600]],
           [(2, 8), (-42, -34), (-53, -39), (2, 5)], [2, 2, 3, 1],
           'NGRIP', 422, 0)

side_panel(2092.5, 2674, -180,
           [edc_dex, edc_d18o, edc_t, edc_p],
           [[edc_dex_b150, edc_dex_b300, edc_dex_b600],
            [edc_d18o_b150, edc_d18o_b300, edc_d18o_b600],
            [edc_t_b150, edc_t_b300, edc_t_b600],
            [edc_p_b150, edc_p_b300, edc_p_b600]],
           [(-1, 3), (-51, -47), (-67, -63), (1, 3)], [1, 1, 1, 0.5],
           'EDC', 2302, -12)


def scatter_panel(y0, y1, xlim, ylim, xmaj, xmin, ymaj, ymin, xfmt, groups, fit, labels, ylab_y):
    ax = fig.add_axes(rect(1114.7, y0, 1659.4, y1))
    for xs, ys, c in groups:
        ax.scatter(xs, ys, s=62, facecolors='none', edgecolors=c, linewidths=1.4, zorder=2)
    ax.plot(fit[0], fit[1], color='black', lw=1.1, zorder=3)
    ax.set_xlim(*xlim)
    ax.set_ylim(*ylim)
    for s in ax.spines.values():
        s.set_linewidth(1.6)
    ax.xaxis.set_major_locator(MultipleLocator(xmaj))
    ax.xaxis.set_minor_locator(MultipleLocator(xmin))
    ax.yaxis.set_major_locator(MultipleLocator(ymaj))
    ax.yaxis.set_minor_locator(MultipleLocator(ymin))
    ax.xaxis.set_major_formatter(FormatStrFormatter(xfmt))
    ax.yaxis.set_major_formatter(FormatStrFormatter('%.1f'))
    ax.tick_params(which='both', direction='out', width=1.5, top=True, right=True,
                   labelleft=False, labelright=True, labelsize=22)
    ax.tick_params(which='major', length=9.4, pad=12)
    ax.tick_params(which='minor', length=4.4)
    ax.set_xlabel('T [$^{\\rm o}$C]', fontsize=22, labelpad=6)
    ax.text(1.262, ylab_y, 'δ$^{18}$O [‰]', fontsize=19, rotation=90,
            ha='center', va='center', transform=ax.transAxes)
    for txt, x, y, c in labels:
        ax.text(x, y, txt, color=c, fontsize=33, ha='center', va='center', zorder=4)


scatter_panel(70.5, 617.4, (-60, -20), (-45, -25), 10, 2, 3, 1, '%d',
              [(ngrip_lgm_t, ngrip_lgm_d, '#CD0000'),
               (ngrip_fwh_lt_t, ngrip_fwh_lt_d, '#1E90FF'),
               (ngrip_fwh_md_t, ngrip_fwh_md_d, '#1874CD'),
               (ngrip_fwh_dk_t, ngrip_fwh_dk_d, '#104E8B'),
               (ngrip_pi_t, ngrip_pi_d, '#FF0000')],
              (ngrip_fit_t, ngrip_fit_d),
              [('LGM', -48.5, -33.7, '#A0200F'), ('PI', -25.1, -32.9, '#FF2200'),
               ('FWH', -43.9, -40.6, '#1464BE'), ('NGRIP', -28.35, -43.0, 'black')],
              0.555)

scatter_panel(751.3, 1293.75, (-70, -50), (-54, -42), 4, 1, 2, 0.5, '%.1f',
              [(edc_lgm_t, edc_lgm_d, '#CD0000'),
               (edc_fwh_lt_t, edc_fwh_lt_d, '#1E90FF'),
               (edc_fwh_md_t, edc_fwh_md_d, '#1874CD'),
               (edc_fwh_dk_t, edc_fwh_dk_d, '#104E8B'),
               (edc_pi_t, edc_pi_d, '#FF0000')],
              (edc_fit_t, edc_fit_d),
              [('FWH', -63.15, -46.9, '#1464BE'), ('PI', -55.0, -43.8, '#FF2200'),
               ('LGM', -65.5, -51.45, '#A0200F'), ('EDC', -55.06, -52.83, 'black')],
              0.689)

# slide border remnants at the image edges
deco = '#1B9AD6'
fig.add_artist(Polygon([(0, 1), (12 / W, 1), (6 / W, 1 - 22 / H), (0, 1 - 48 / H)],
                       closed=True, transform=fig.transFigure, facecolor=deco, lw=0))
fig.add_artist(Polygon([(2866 / W, 1), (1, 1), (1, 0), (2881 / W, 0), (2880 / W, 1 - 400 / H),
                        (2876 / W, 1 - 150 / H)],
                       closed=True, transform=fig.transFigure, facecolor=deco, lw=0))

fig.savefig('out.png', dpi=100)
